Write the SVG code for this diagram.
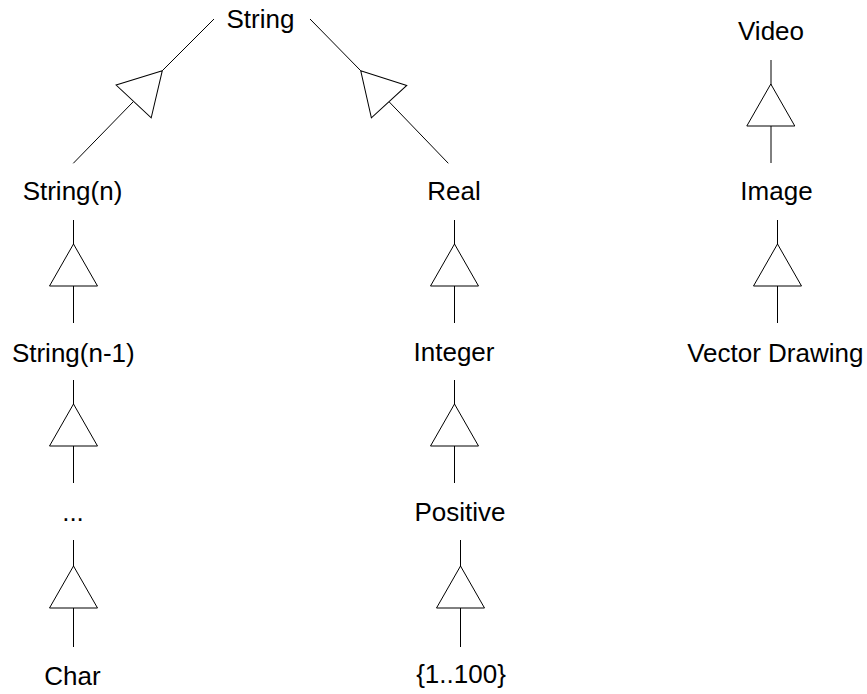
<svg xmlns="http://www.w3.org/2000/svg" xmlns:xlink="http://www.w3.org/1999/xlink" width="867" height="694" viewBox="0 0 867 694">
  <style>
    text { font-family: "Liberation Sans", Arial, sans-serif; font-size: 26px; fill: #000; text-anchor: middle; }
    .edge line { stroke: #000; stroke-width: 1; fill: none; }
    .edge use { fill: #fff; stroke: #000; stroke-width: 1; }
    .soft line { stroke: #000; }
  </style>
  <defs>
    <!-- hollow generalization head: apex at origin, base 42 below -->
    <path id="gen" d="M0,0 L-24,42 L24,42 Z"/>
  </defs>
  <rect width="867" height="694" fill="#fff"/>

  <g id="connectors">
    <!-- String(n) -> String -->
    <g class="edge">
      <line x1="214" y1="19" x2="162.3" y2="70.7"/>
      <line x1="133.3" y1="101.7" x2="73.3" y2="163.3"/>
      <use xlink:href="#gen" transform="translate(162.3 70.7) rotate(43)"/>
    </g>
    <!-- Real -> String -->
    <g class="edge">
      <line x1="310" y1="19" x2="360.7" y2="70.7"/>
      <line x1="389.3" y1="102" x2="448.3" y2="163.3"/>
      <use xlink:href="#gen" transform="translate(360.7 70.7) rotate(-42.5)"/>
    </g>
    <!-- String(n-1) -> String(n) -->
    <g class="edge">
      <line x1="73.5" y1="220" x2="73.5" y2="323"/>
      <use xlink:href="#gen" transform="translate(73.5 244)"/>
    </g>
    <!-- ... -> String(n-1) -->
    <g class="edge">
      <line x1="73.5" y1="380" x2="73.5" y2="483"/>
      <use xlink:href="#gen" transform="translate(73.5 404)"/>
    </g>
    <!-- Char -> ... -->
    <g class="edge">
      <line x1="73.5" y1="540" x2="73.5" y2="647"/>
      <use xlink:href="#gen" transform="translate(73.5 566)"/>
    </g>
    <!-- Integer -> Real -->
    <g class="edge">
      <line x1="454.5" y1="220" x2="454.5" y2="323"/>
      <use xlink:href="#gen" transform="translate(454.5 244)"/>
    </g>
    <!-- Positive -> Integer -->
    <g class="edge">
      <line x1="454.5" y1="380" x2="454.5" y2="483"/>
      <use xlink:href="#gen" transform="translate(454.5 404)"/>
    </g>
    <!-- {1..100} -> Positive -->
    <g class="edge">
      <line x1="460.5" y1="540" x2="460.5" y2="647"/>
      <use xlink:href="#gen" transform="translate(460.5 566)"/>
    </g>
    <!-- Image -> Video -->
    <g class="edge">
      <line x1="771" y1="60" x2="771" y2="163"/>
      <use xlink:href="#gen" transform="translate(770.8 84)"/>
    </g>
    <!-- Vector Drawing -> Image -->
    <g class="edge">
      <line x1="777.5" y1="220" x2="777.5" y2="323"/>
      <use xlink:href="#gen" transform="translate(777.5 244)"/>
    </g>
  </g>

  <g id="node-string"><text x="260.5" y="27.5">String</text></g>
  <g id="node-string-n"><text x="72.5" y="199.5">String(n)</text></g>
  <g id="node-string-n-1"><text x="73.3" y="361.7">String(n-1)</text></g>
  <g id="node-ellipsis"><text x="73" y="521">...</text></g>
  <g id="node-char"><text x="72.5" y="685">Char</text></g>
  <g id="node-real"><text x="454" y="199.5">Real</text></g>
  <g id="node-integer"><text x="454" y="361">Integer</text></g>
  <g id="node-positive"><text x="460" y="521">Positive</text></g>
  <g id="node-range"><text x="461" y="683">{1..100}</text></g>
  <g id="node-video"><text x="771" y="40">Video</text></g>
  <g id="node-image"><text x="776.5" y="199.5">Image</text></g>
  <g id="node-vector-drawing"><text x="775.3" y="361.7">Vector Drawing</text></g>
</svg>
